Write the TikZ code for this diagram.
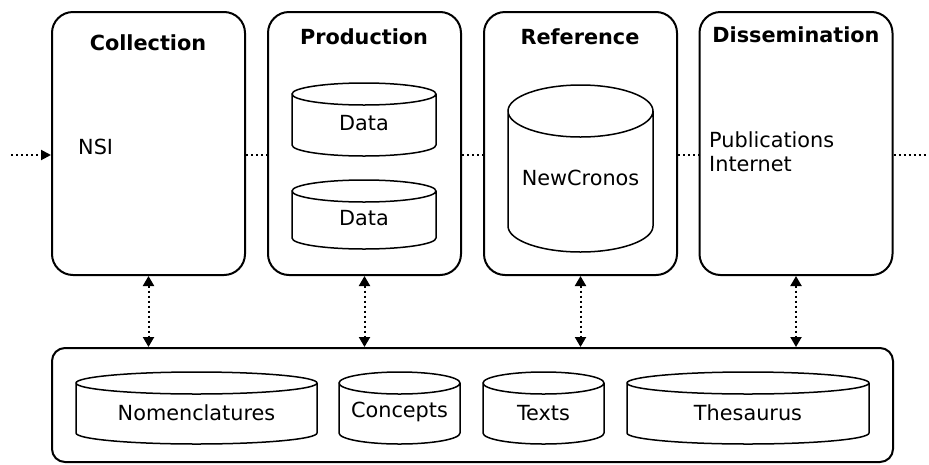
\documentclass[tikz,border=0pt]{standalone}
\usepackage{fontspec}
\setmainfont{DejaVu Sans}
\usetikzlibrary{arrows.meta}
\tikzset{
  topbox/.style={draw,line width=2pt,rounded corners=21pt,minimum width=193pt,minimum height=263pt,inner sep=0pt},
  basebox/.style={draw,line width=2pt,rounded corners=13pt,minimum width=841pt,minimum height=114pt,inner sep=0pt},
  cylline/.style={line width=1.5pt},
  lbl/.style={inner sep=0pt,font=\fontsize{20.8}{24}\selectfont},
  ttl/.style={inner sep=0pt,anchor=base,font=\fontsize{20.8}{24}\selectfont\bfseries},
  dotline/.style={line width=2pt,dash pattern=on 2pt off 3pt},
  dotarrow/.style={dotline,{Triangle[length=10pt,width=11pt]}-{Triangle[length=10pt,width=11pt]}},
  dotin/.style={dotline,-{Triangle[length=10pt,width=10pt]}}
}
\newcommand\dbcyl[8]{%
  \pgfmathsetmacro\cylrx{(#4-#2)/2}%
  \draw[cylline] (#2,#3+#6) -- (#2,#5-#6)
    arc[start angle=180,end angle=0,x radius=\cylrx,y radius=#6]
    -- (#4,#3+#6)
    arc[start angle=0,end angle=-180,x radius=\cylrx,y radius=#6]
    arc[start angle=180,end angle=0,x radius=\cylrx,y radius=#6];
  \node[lbl,anchor=base] (#1) at ({(#2+#4)/2},#7) {#8};
}
\begin{document}
\begin{tikzpicture}[x=1pt,y=-1pt]
\useasboundingbox (0,0) rectangle (929,464);
% top boxes
\node[topbox] (coll) at (148.5,143.5) {};
\node[topbox] (prod) at (364.5,143.5) {};
\node[topbox] (refr) at (580.5,143.5) {};
\node[topbox] (diss) at (796,143.5) {};
% bottom box
\node[basebox] (base) at (472.5,405) {};
% titles
\node[ttl] (tcoll) at (148,50) {Collection};
\node[ttl] (tprod) at (364,44) {Production};
\node[ttl] (trefr) at (580,44) {Reference};
\node[ttl] (tdiss) at (796,42) {Dissemination};
% texts
\node[lbl,anchor=base west] (nsi) at (78,154) {NSI};
\node[lbl,anchor=base west] (pub) at (709,147) {Publications};
\node[lbl,anchor=base west] (inet) at (709,171) {Internet};
% cylinders
\dbcyl{data1}{292}{83}{436}{156}{11}{130}{Data}
\dbcyl{data2}{292}{180}{436}{249}{11}{225}{Data}
\dbcyl{newc}{508}{85}{653}{252}{26}{185}{NewCronos}
\dbcyl{nomen}{76}{372}{317}{444}{11}{420}{Nomenclatures}
\dbcyl{conc}{339}{372}{460}{444}{11}{417}{Concepts}
\dbcyl{texts}{483}{372}{604}{444}{11}{420}{Texts}
\dbcyl{thes}{627}{372}{869}{444}{11}{420}{Thesaurus}
% horizontal dotted flow
\coordinate (lin) at (11,155);
\coordinate (lout) at (927,155);
\draw[dotin] (lin) -- (lin -| coll.west);
\draw[dotline] (lin -| coll.east) -- (lin -| prod.west);
\draw[dotline] (lin -| prod.east) -- (lin -| refr.west);
\draw[dotline] (lin -| refr.east) -- (lin -| diss.west);
\draw[dotline] (lout -| diss.east) -- (lout);
% vertical arrows
\draw[dotarrow] (coll.south) -- (coll.south |- base.north);
\draw[dotarrow] (prod.south) -- (prod.south |- base.north);
\draw[dotarrow] (refr.south) -- (refr.south |- base.north);
\draw[dotarrow] (diss.south) -- (diss.south |- base.north);
\end{tikzpicture}
\end{document}
